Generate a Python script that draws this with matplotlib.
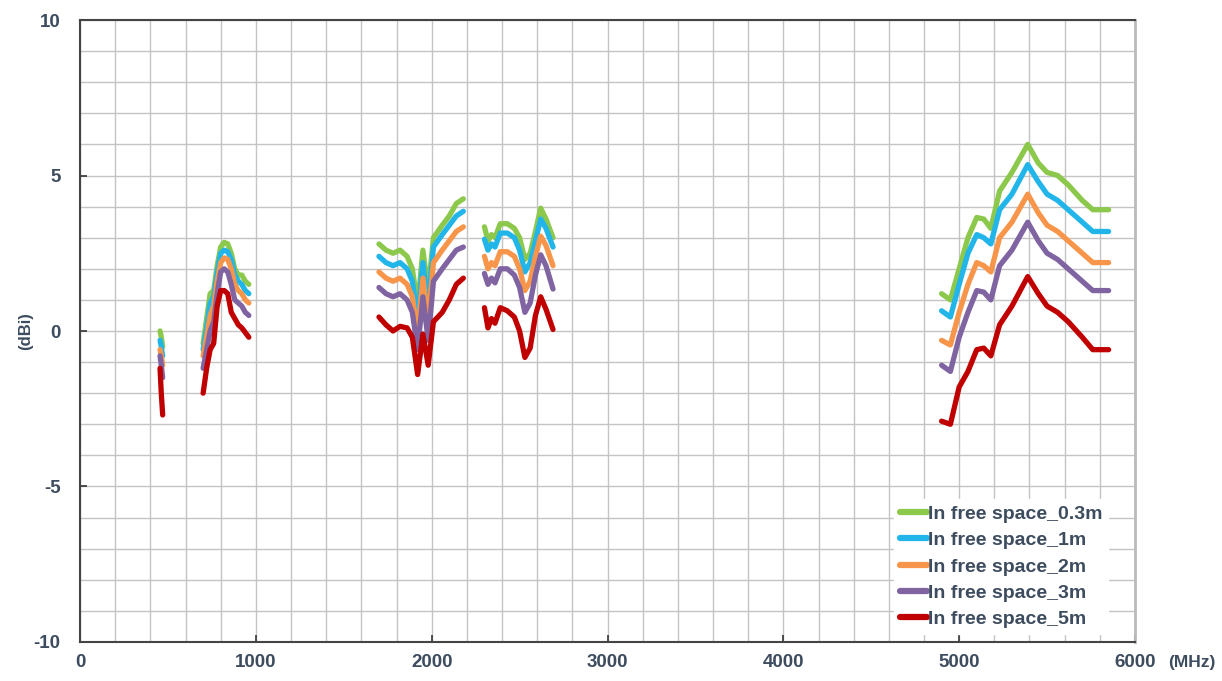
import numpy as np
import matplotlib
matplotlib.use("Agg")
import matplotlib.pyplot as plt

plt.rcParams['font.family'] = ['Liberation Sans', 'DejaVu Sans']
plt.rcParams['axes.unicode_minus'] = False

nan = np.nan

# frequencies (MHz), bands separated by nan
freq = [455, 462, 470, nan,
        700, 720, 740, 760, 780, 800, 820, 840, 860, 880, 900, 920, 940, 960, nan,
        1700, 1740, 1780, 1820, 1860, 1890, 1920, 1950, 1980, 2010, 2060, 2100, 2140, 2180, nan,
        2300, 2320, 2340, 2360, 2390, 2430, 2470, 2500, 2530, 2560, 2590, 2620, 2650, 2690, nan,
        4900, 4950, 5000, 5050, 5100, 5140, 5180, 5230, 5300, 5390, 5450, 5500, 5560, 5620, 5700, 5760, 5850]

gain_03m = [0.0, -0.2, -0.5, nan,
            -0.4, 0.4, 1.2, 1.3, 2.1, 2.7, 2.85, 2.8, 2.5, 2.0, 1.8, 1.8, 1.6, 1.5, nan,
            2.8, 2.6, 2.5, 2.6, 2.4, 2.0, 0.8, 2.6, 1.3, 3.0, 3.4, 3.7, 4.1, 4.25, nan,
            3.35, 2.9, 3.1, 3.0, 3.45, 3.45, 3.3, 3.0, 2.3, 2.5, 3.2, 3.95, 3.6, 3.0, nan,
            1.2, 1.0, 2.0, 3.0, 3.65, 3.6, 3.3, 4.5, 5.1, 6.0, 5.4, 5.1, 5.0, 4.7, 4.2, 3.9, 3.9]

gain_1m = [-0.3, -0.5, -0.8, nan,
           -0.6, 0.1, 0.9, 1.1, 1.9, 2.5, 2.6, 2.55, 2.3, 1.8, 1.6, 1.5, 1.3, 1.2, nan,
           2.4, 2.2, 2.1, 2.2, 2.0, 1.6, 0.4, 2.2, 0.8, 2.7, 3.1, 3.4, 3.7, 3.85, nan,
           2.95, 2.6, 2.8, 2.7, 3.15, 3.15, 3.0, 2.6, 1.9, 2.2, 2.9, 3.6, 3.3, 2.7, nan,
           0.65, 0.45, 1.5, 2.5, 3.1, 3.0, 2.8, 3.9, 4.4, 5.35, 4.8, 4.4, 4.2, 3.9, 3.5, 3.2, 3.2]

gain_2m = [-0.6, -0.8, -1.1, nan,
           -0.8, -0.2, 0.5, 0.8, 1.6, 2.2, 2.35, 2.3, 2.0, 1.5, 1.3, 1.2, 1.0, 0.9, nan,
           1.9, 1.7, 1.6, 1.7, 1.5, 1.1, -0.1, 1.7, 0.3, 2.2, 2.6, 2.9, 3.2, 3.35, nan,
           2.4, 2.0, 2.2, 2.1, 2.55, 2.55, 2.4, 2.0, 1.3, 1.6, 2.4, 3.05, 2.75, 2.1, nan,
           -0.3, -0.45, 0.6, 1.5, 2.2, 2.1, 1.9, 3.0, 3.5, 4.4, 3.8, 3.4, 3.2, 2.9, 2.5, 2.2, 2.2]

gain_3m = [-0.8, -1.1, -1.5, nan,
           -1.2, -0.6, 0.0, 0.3, 1.2, 1.9, 2.0, 1.9, 1.5, 1.0, 0.9, 0.8, 0.6, 0.5, nan,
           1.4, 1.2, 1.1, 1.2, 1.0, 0.6, -0.6, 1.1, -0.3, 1.6, 2.0, 2.3, 2.6, 2.7, nan,
           1.85, 1.5, 1.7, 1.55, 2.0, 2.0, 1.8, 1.4, 0.6, 0.9, 1.8, 2.45, 2.1, 1.35, nan,
           -1.1, -1.3, -0.2, 0.6, 1.3, 1.25, 1.0, 2.1, 2.6, 3.5, 2.9, 2.5, 2.3, 2.0, 1.6, 1.3, 1.3]

gain_5m = [-1.2, -2.0, -2.7, nan,
           -2.0, -1.2, -0.6, -0.4, 0.8, 1.3, 1.3, 1.2, 0.6, 0.4, 0.2, 0.1, -0.05, -0.2, nan,
           0.45, 0.2, 0.0, 0.15, 0.1, -0.2, -1.4, -0.1, -1.1, 0.3, 0.6, 1.0, 1.5, 1.7, nan,
           0.75, 0.1, 0.4, 0.25, 0.75, 0.65, 0.45, 0.0, -0.85, -0.55, 0.5, 1.1, 0.7, 0.05, nan,
           -2.9, -3.0, -1.8, -1.3, -0.6, -0.55, -0.8, 0.2, 0.8, 1.75, 1.2, 0.8, 0.6, 0.3, -0.2, -0.6, -0.6]

labels = ["In free space_0.3m", "In free space_1m", "In free space_2m",
          "In free space_3m", "In free space_5m"]
colors = ["#8cc84b", "#22b5ea", "#f7964a", "#8064a2", "#c00000"]

txt = "#3d4c5e"

fig = plt.figure(figsize=(12.22, 6.81), dpi=100)
ax = fig.add_axes([0.0655, 0.0573, 0.8633, 0.9133])

for g, lab, c in zip([gain_03m, gain_1m, gain_2m, gain_3m, gain_5m], labels, colors):
    ax.plot(freq, g, color=c, lw=3.8, label=lab, solid_joinstyle='round',
            solid_capstyle='round')

ax.set_xlim(0, 6000)
ax.set_ylim(-10, 10)
ax.set_xticks(np.arange(0, 6001, 1000))
ax.set_yticks([-10, -5, 0, 5, 10])
ax.set_xticks(np.arange(0, 6001, 200), minor=True)
ax.set_yticks(np.arange(-10, 11, 1), minor=True)
ax.grid(True, which='both', color='#c4c4c4', lw=1)
ax.set_axisbelow(True)
ax.tick_params(which='minor', length=0)
ax.tick_params(which='major', direction='in', length=5, width=1.2, colors='#333333',
               labelcolor=txt, labelsize=13.5)
ax.tick_params(axis='y', pad=14)
ax.tick_params(axis='x', pad=9)
for t in ax.get_xticklabels() + ax.get_yticklabels():
    t.set_fontweight('bold')

for s in ['left', 'bottom', 'top']:
    ax.spines[s].set_color('#444444')
    ax.spines[s].set_linewidth(1.5)
ax.spines['right'].set_color('#bbbbbb')
ax.spines['right'].set_linewidth(2)

fig.text(0.021, 0.514, "(dBi)", rotation=90, ha='center', va='center',
         fontsize=12, fontweight='bold', color=txt)
fig.text(0.975, 0.027, "(MHz)", ha='center', va='center',
         fontsize=12.5, fontweight='bold', color=txt)

leg = ax.legend(loc='lower right', bbox_to_anchor=(0.984, -0.003), frameon=True,
                prop={'size': 14, 'weight': 'bold'},
                handlelength=1.4, handletextpad=0.05,
                labelspacing=0.45, borderaxespad=0.5, borderpad=0.3)
leg.get_frame().set_edgecolor('white')
leg.get_frame().set_alpha(1)
for t in leg.get_texts():
    t.set_color(txt)
for h in leg.get_lines():
    h.set_linewidth(4.5)

fig.savefig("out.png", dpi=100)
